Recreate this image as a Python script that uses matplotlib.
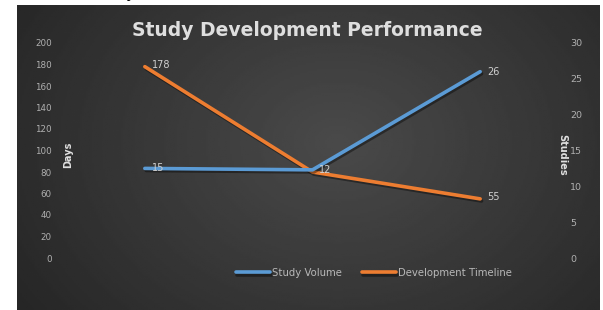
import numpy as np
import matplotlib.pyplot as plt
import matplotlib.patheffects as pe

categories = ["A", "B", "C"]
study_volume = [12.5, 12.3, 26]
study_labels = ["15", "12", "26"]
dev_timeline = [178, 80, 55]
dev_labels = ["178", "", "55"]
days_ticks = [0, 20, 40, 60, 80, 100, 120, 140, 160, 180, 200]
studies_ticks = [0, 5, 10, 15, 20, 25, 30]

W, H = 603, 310
fig = plt.figure(figsize=(W / 100, H / 100), dpi=100)
fig.patch.set_facecolor("white")

# dark panel with soft gradient
bg = fig.add_axes([17 / W, 0, (600 - 17) / W, 1 - 5 / H], zorder=0)
xx, yy = np.meshgrid(np.linspace(0, 1, 300), np.linspace(0, 1, 150))
r = np.sqrt(((xx - 0.55) / 0.75) ** 2 + ((yy - 0.45) / 1.1) ** 2)
shade = np.clip(0.29 - 0.16 * r, 0.13, 0.3)
bg.imshow(shade, cmap="gray", vmin=0, vmax=1, aspect="auto", extent=[0, 1, 0, 1])
bg.axis("off")

# tail of a cropped line of text above the chart
fig.text(130 / W, 1.025, "y", fontsize=12, ha="center", va="center", color="black", zorder=-1)

ax = fig.add_axes([61 / W, 52 / H, (564 - 61) / W, (258 - 43) / H], zorder=2)
ax.patch.set_alpha(0)
ax2 = ax.twinx()
ax2.patch.set_alpha(0)

x = np.arange(len(categories))
shadow = [pe.SimpleLineShadow(offset=(1, -1.5), alpha=0.4, shadow_color="black"), pe.Normal()]
l2, = ax.plot(x, dev_timeline, color="#ed7d31", lw=2.6, solid_capstyle="round",
              path_effects=shadow, label="Development Timeline", zorder=3)
l1, = ax2.plot(x, study_volume, color="#5b9bd5", lw=2.6, solid_capstyle="round",
               path_effects=shadow, label="Study Volume", zorder=3)

for i, t in enumerate(dev_labels):
    if t:
        ax.annotate(t, (x[i], dev_timeline[i]), xytext=(5, 1), textcoords="offset points",
                    fontsize=7, color="#d0d0d0", va="center", ha="left")
for i, t in enumerate(study_labels):
    ax2.annotate(t, (x[i], study_volume[i]), xytext=(5, 0), textcoords="offset points",
                 fontsize=7, color="#d0d0d0", va="center", ha="left")

ax.set_xlim(-0.5, 2.5)
ax.set_ylim(0, 200)
ax2.set_ylim(0, 30)
ax.set_xticks([])
ax.set_yticks(days_ticks)
ax2.set_yticks(studies_ticks)
ax.tick_params(axis="y", length=0, pad=6.5, labelsize=6.3, labelcolor="#b0b0b0")
ax2.tick_params(axis="y", length=0, pad=4.5, labelsize=6.8, labelcolor="#b0b0b0")
for a in (ax, ax2):
    for s in a.spines.values():
        s.set_visible(False)

fig.text(68 / W, 1 - 155 / H, "Days", rotation=90, fontsize=7, fontweight="bold",
         color="#e0e0e0", ha="center", va="center", zorder=5)
fig.text(562 / W, 1 - 155 / H, "Studies", rotation=-90, fontsize=7, fontweight="bold",
         color="#e0e0e0", ha="center", va="center", zorder=5)
fig.text(307 / W, 1 - 31 / H, "Study Development Performance", fontsize=13.5,
         fontweight="bold", family="DejaVu Sans", color="#dedede", ha="center", va="center", zorder=5)

leg = fig.legend(handles=[l1, l2], loc="center", bbox_to_anchor=(374 / W, 1 - 273 / H),
                 ncol=2, frameon=False, fontsize=7.3, labelcolor="#b8b8b8",
                 handlelength=3.4, handletextpad=0.2, columnspacing=1.9)

fig.savefig("out.png", dpi=100)
